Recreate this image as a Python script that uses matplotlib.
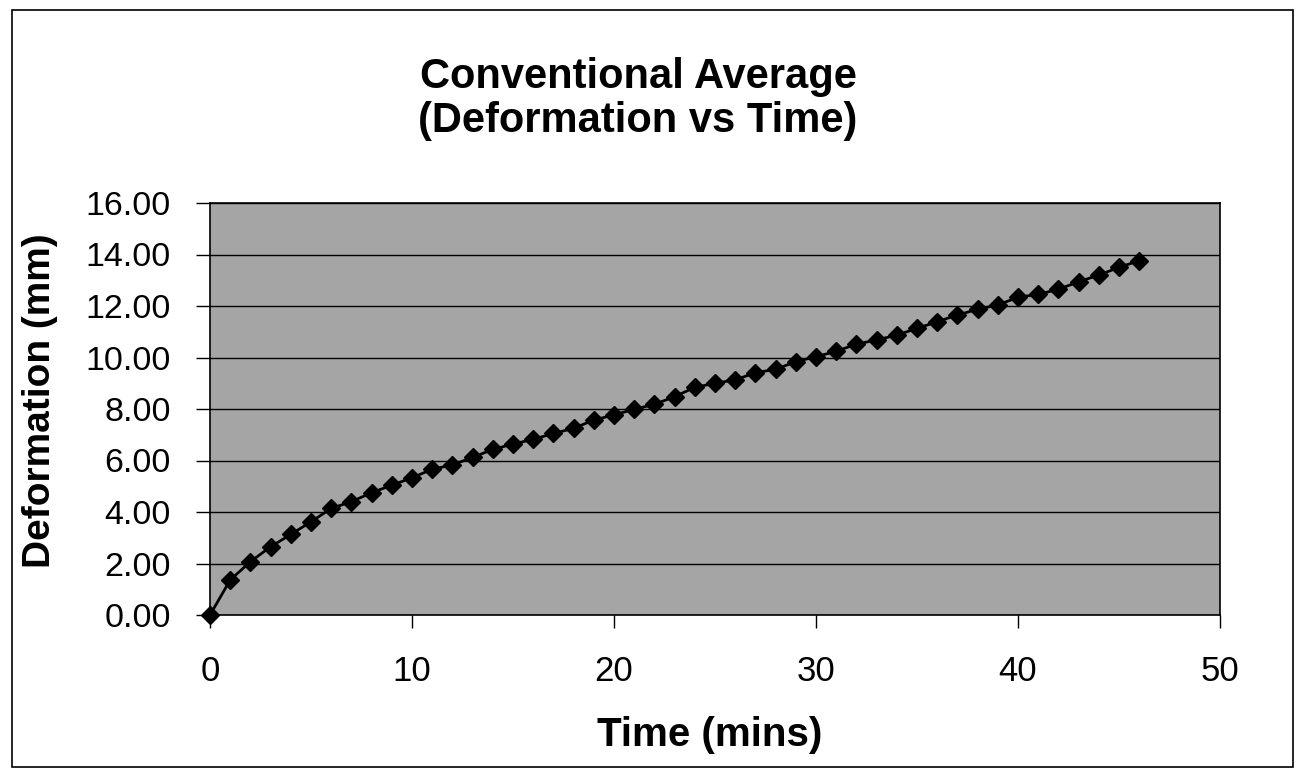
import matplotlib
matplotlib.use("Agg")
import matplotlib.pyplot as plt
from matplotlib.patches import Rectangle

plt.rcParams["font.family"] = ["Liberation Sans", "DejaVu Sans"]

# Average deformation readings, one per minute
time_mins = list(range(0, 47))
deformation_mm = [
    0.00, 1.36, 2.07, 2.65, 3.13, 3.62, 4.14, 4.40, 4.75, 5.04,
    5.33, 5.66, 5.83, 6.12, 6.43, 6.64, 6.82, 7.05, 7.25, 7.57,
    7.77, 7.99, 8.18, 8.48, 8.84, 9.00, 9.13, 9.41, 9.54, 9.84,
    10.03, 10.24, 10.52, 10.68, 10.87, 11.13, 11.39, 11.65, 11.87, 12.04,
    12.34, 12.45, 12.65, 12.94, 13.20, 13.50, 13.76,
]
x_ticks = [0, 10, 20, 30, 40, 50]
y_ticks = [0, 2, 4, 6, 8, 10, 12, 14, 16]

W, H = 1297, 769
fig = plt.figure(figsize=(W / 100, H / 100), dpi=100)
fig.patch.set_facecolor("white")

# plot area in pixel terms
left, right, top, bottom = 210, 1220, 203, 615
ax = fig.add_axes([left / W, 1 - bottom / H, (right - left) / W, (bottom - top) / H])
ax.set_facecolor("#a5a5a5")

ax.plot(time_mins, deformation_mm, color="black", linewidth=2,
        marker="D", markersize=9, markerfacecolor="black", markeredgecolor="black",
        clip_on=False, zorder=3)

ax.set_xlim(0, 50)
ax.set_ylim(0, 16)
ax.set_xticks(x_ticks)
ax.set_yticks(y_ticks)
ax.set_yticklabels([f"{v:.2f}" for v in y_ticks])
ax.yaxis.grid(True, color="black", linewidth=1.0)
ax.set_axisbelow(True)

ax.tick_params(axis="x", direction="out", length=9, width=1, pad=20, labelsize=25)
ax.tick_params(axis="y", direction="out", length=10, width=1, pad=18, labelsize=24.5)
for s in ax.spines.values():
    s.set_color("black")
    s.set_linewidth(1.2)

ax.set_xlabel("Time (mins)", fontsize=29, fontweight="bold", labelpad=20)
ax.xaxis.set_label_coords((710 - left) / (right - left), -0.245)
fig.text(40 / W, 1 - 401 / H, "Deformation (mm)", rotation=90,
         fontsize=28, fontweight="bold", ha="center", va="center")

fig.text(638 / W, 1 - 99 / H, "Conventional Average\n(Deformation vs Time)",
         fontsize=30, fontweight="bold", ha="center", va="center",
         linespacing=1.15)

# outer chart border
fig.patches.append(Rectangle((12 / W, 1 - 767 / H), (1293 - 12) / W, (767 - 10) / H,
                             transform=fig.transFigure, fill=False,
                             edgecolor="black", linewidth=1.2))

fig.savefig("out.png", dpi=100)
